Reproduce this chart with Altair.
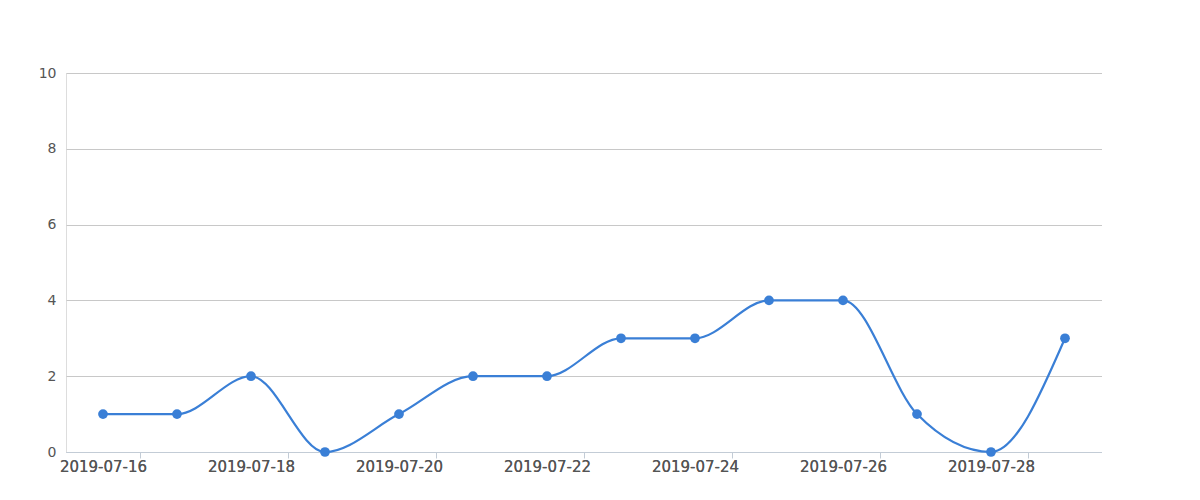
import altair as alt
import pandas as pd

dates = ["2019-07-16", "2019-07-17", "2019-07-18", "2019-07-19", "2019-07-20",
         "2019-07-21", "2019-07-22", "2019-07-23", "2019-07-24", "2019-07-25",
         "2019-07-26", "2019-07-27", "2019-07-28", "2019-07-29"]
values = [1, 1, 2, 0, 1, 2, 2, 3, 3, 4, 4, 1, 0, 3]
y_ticks = [0, 2, 4, 6, 8, 10]
x_label_dates = dates[::2]

df = pd.DataFrame({"date": dates, "value": values})

color = "#3a7fd6"
axis_color = "#c3ccd6"
font = "DejaVu Sans"

xscale = alt.Scale(type="point", padding=0.5)
x_labels = alt.X("date:O", sort=dates, scale=xscale,
                 axis=alt.Axis(title=None, orient="bottom", values=x_label_dates, labelAngle=0,
                               labelFont=font, labelFontSize=15, labelColor="#555",
                               labelPadding=7, ticks=False, domain=True,
                               domainColor=axis_color, grid=False))
x_ticks = alt.X("date:O", sort=dates, scale=xscale,
                axis=alt.Axis(title=None, orient="bottom", values=x_label_dates, labels=False,
                              domain=False, tickColor=axis_color, tickSize=6,
                              tickOffset=37, grid=False))
y = alt.Y("value:Q", scale=alt.Scale(domain=[0, 10], nice=False, zero=True),
          axis=alt.Axis(title=None, values=y_ticks, domain=False, ticks=False,
                        labelFont=font, labelFontSize=14, labelColor="#555",
                        labelPadding=10, gridColor="#c8c8c8", gridWidth=1))

base = alt.Chart(df)
tick_layer = base.mark_point(opacity=0).encode(x=x_ticks, y=y)
line = base.mark_line(interpolate="monotone", color=color, strokeWidth=2.2).encode(x=x_labels, y=y)
pts = base.mark_circle(color=color, size=95, opacity=1).encode(x=x_labels, y=y)

chart = alt.layer(tick_layer, line, pts).resolve_axis(x="independent").properties(
    width=1036, height=379,
    autosize=alt.AutoSizeParams(type="none"),
    padding={"left": 58, "top": 65, "right": 0, "bottom": 40},
).configure_view(strokeWidth=0, strokeOpacity=0).configure_axis(
    domain=False
).configure_axisY(
    domain=False, domainOpacity=0, grid=True
).configure_axisLeft(domain=False, domainOpacity=0).configure_axisX(grid=False).configure(background="white")

chart.save("out.html", embed_options={"renderer": "svg", "actions": False})
